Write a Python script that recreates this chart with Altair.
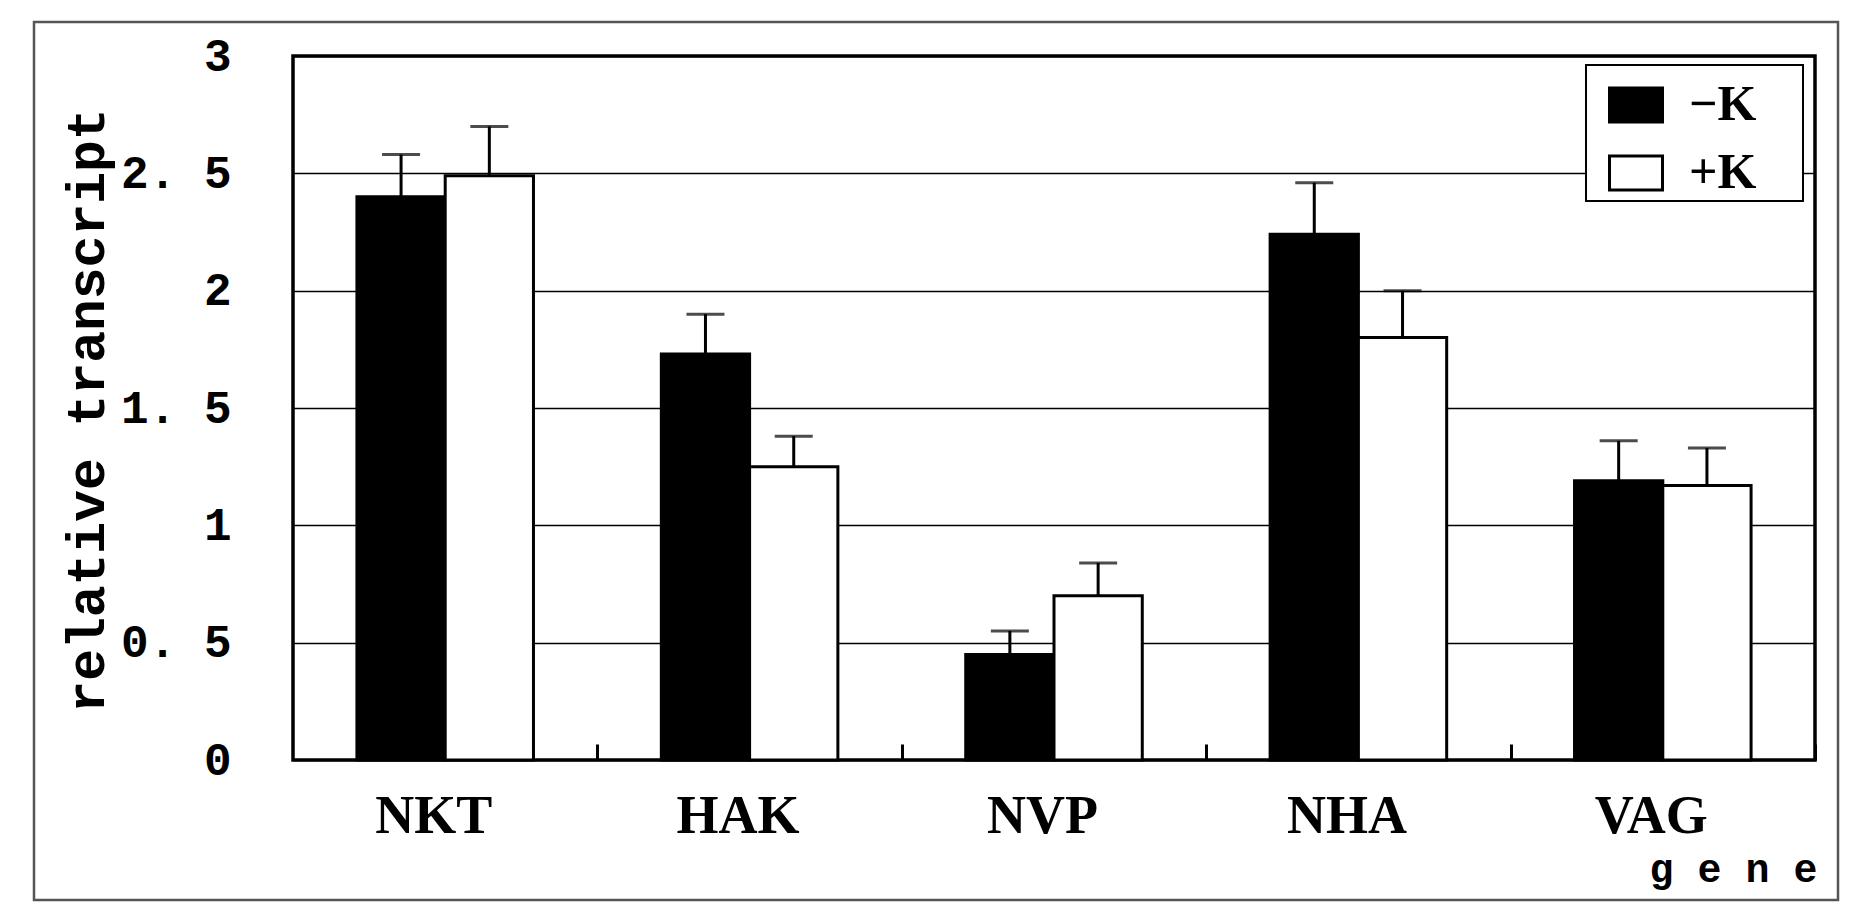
import altair as alt
import pandas as pd

# ---- data ----
genes = ["NKT", "HAK", "NVP", "NHA", "VAG"]
series = ["−K", "+K"]
minus_k = [2.40, 1.73, 0.45, 2.24, 1.19]
plus_k = [2.49, 1.25, 0.70, 1.80, 1.17]
minus_k_err = [0.18, 0.17, 0.10, 0.22, 0.17]
plus_k_err = [0.21, 0.13, 0.14, 0.20, 0.16]
y_ticks = [0, 0.5, 1, 1.5, 2, 2.5, 3]
y_tick_labels = ["0", "0. 5", "1", "1. 5", "2", "2. 5", "3"]
x_title = "g e n e"
y_title = "relative transcript"

rows = []
for g, v, e in zip(genes, minus_k, minus_k_err):
    rows.append({"gene": g, "treat": series[0], "value": v, "top": v + e})
for g, v, e in zip(genes, plus_k, plus_k_err):
    rows.append({"gene": g, "treat": series[1], "value": v, "top": v + e})
df = pd.DataFrame(rows)

label_expr = " : ".join(
    f"datum.value == {t} ? '{l}'" for t, l in zip(y_ticks, y_tick_labels)
) + " : datum.label"

W, H = 1522, 704
step = W / len(genes)

x_axis = alt.Axis(
    title=x_title,
    titleFont="Liberation Mono",
    titleFontWeight="bold",
    titleFontSize=40,
    titleColor="black",
    titleX=W + 2,
    titleY=137,
    titleAlign="right",
    titleBaseline="alphabetic",
    labelFont="Liberation Serif",
    labelFontWeight="bold",
    labelFontSize=54,
    labelColor="black",
    labelAngle=0,
    labelBaseline="alphabetic",
    labelPadding=72,
    labelOffset=-step / 2 - 12,
    domain=False,
    ticks=True,
    tickOffset=step / 2,
    tickSize=16,
    tickWidth=3,
    tickColor="black",
    offset=-16,
    grid=False,
)
x_enc = alt.X(
    "gene:N",
    sort=genes,
    scale=alt.Scale(paddingInner=0.42, paddingOuter=0.21),
    axis=x_axis,
)
xoff = alt.XOffset("treat:N", sort=series, scale=alt.Scale(paddingInner=0, paddingOuter=0))
y_scale = alt.Scale(domain=[0, 3], nice=False, zero=True)
y_axis = alt.Axis(
    values=y_ticks,
    labelExpr=label_expr,
    title=y_title,
    titleFont="Liberation Mono",
    titleFontWeight="bold",
    titleFontSize=53,
    titleColor="black",
    titleAngle=270,
    titleX=-190,
    titleY=H / 2 + 2,
    titleAlign="center",
    titleBaseline="alphabetic",
    labelFont="Liberation Mono",
    labelFontWeight="bold",
    labelFontSize=46,
    labelColor="black",
    labelPadding=62,
    domain=False,
    ticks=False,
    grid=True,
    gridColor="black",
    gridWidth=1.6,
)

base = alt.Chart(df)

bars = base.mark_bar(stroke="black", strokeWidth=3).encode(
    x=x_enc,
    xOffset=xoff,
    y=alt.Y("value:Q", scale=y_scale, axis=y_axis),
    color=alt.Color(
        "treat:N",
        sort=series,
        scale=alt.Scale(domain=series, range=["#000000", "#ffffff"]),
        legend=alt.Legend(
            title=None,
            orient="none",
            legendX=1315,
            legendY=21,
            padding=0,
            symbolType="M-1,-0.64L1,-0.64L1,0.64L-1,0.64Z",
            symbolSize=2809,
            symbolStrokeColor="black",
            symbolStrokeWidth=3,
            labelFont="Liberation Serif",
            labelFontWeight="bold",
            labelFontSize=50,
            labelColor="black",
            labelOffset=25,
            rowPadding=15,
        ),
    ),
)

err = base.mark_rule(color="black", strokeWidth=3).encode(
    x=x_enc,
    xOffset=xoff,
    y=alt.Y("value:Q", scale=y_scale, axis=y_axis),
    y2="top:Q",
)
caps = base.mark_tick(color="black", thickness=3, size=38).encode(
    x=x_enc,
    xOffset=xoff,
    y=alt.Y("top:Q", scale=y_scale, axis=y_axis),
)

one = alt.Data(values=[{"k": 1}])
outer_frame = alt.Chart(one).mark_rect(fillOpacity=0, stroke="#555555", strokeWidth=2.5).encode(
    x=alt.value(-259), x2=alt.value(1545), y=alt.value(-34), y2=alt.value(844)
)
legend_box = alt.Chart(one).mark_rect(fill="white", stroke="black", strokeWidth=2).encode(
    x=alt.value(1293), x2=alt.value(1510), y=alt.value(9), y2=alt.value(145)
)

chart = (
    alt.layer(outer_frame, bars, err, caps, legend_box)
    .properties(
        width=W,
        height=H,
        autosize=alt.AutoSizeParams(type="none"),
        padding={"left": 285, "top": 48, "right": 46, "bottom": 147},
        background="white",
    )
    .configure_view(stroke="black", strokeWidth=3.5)
)

chart.save("out.html", embed_options={"renderer": "svg", "actions": False})
